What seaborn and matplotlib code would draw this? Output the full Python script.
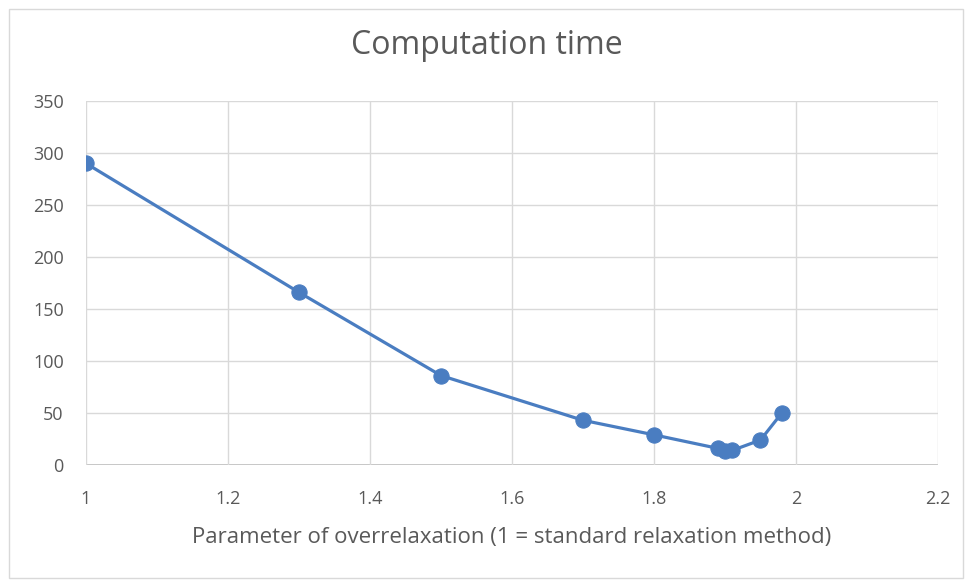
import matplotlib
matplotlib.use("Agg")
import matplotlib.pyplot as plt
import seaborn as sns
import pandas as pd
from matplotlib.patches import Rectangle

omega = [1.0, 1.3, 1.5, 1.7, 1.8, 1.89, 1.9, 1.91, 1.95, 1.98]
time_s = [290, 166, 86, 43, 29, 16, 13.5, 14, 24, 50]
x_ticks = [1, 1.2, 1.4, 1.6, 1.8, 2, 2.2]
x_tick_labels = ["1", "1.2", "1.4", "1.6", "1.8", "2", "2.2"]
y_ticks = [0, 50, 100, 150, 200, 250, 300, 350]

df = pd.DataFrame({"omega": omega, "time": time_s})

sns.set_theme(style="white")
plt.rcParams["font.family"] = ["Open Sans", "DejaVu Sans"]

fig = plt.figure(figsize=(9.74, 5.88), dpi=100)
ax = fig.add_axes([86/974, 1-465/588, (938-86)/974, (465-101)/588])

grid_c = "#D9D9D9"
text_c = "#595959"
line_c = "#4A7DC1"

sns.lineplot(data=df, x="omega", y="time", ax=ax, color=line_c, linewidth=2.3,
             marker="o", markersize=11, markeredgecolor=line_c, sort=False)

ax.set_xlim(1, 2.2)
ax.set_ylim(0, 350)
ax.set_xticks(x_ticks)
ax.set_xticklabels(x_tick_labels)
ax.set_yticks(y_ticks)
ax.grid(True, color=grid_c, linewidth=1)
ax.set_axisbelow(True)
for s in ax.spines.values():
    s.set_visible(False)
ax.axhline(0, color="#BFBFBF", linewidth=1.3, zorder=0)
ax.tick_params(axis="both", length=0, labelsize=13, colors=text_c)
ax.tick_params(axis="y", pad=16)
ax.tick_params(axis="x", pad=18)
ax.set_xlabel("Parameter of overrelaxation (1 = standard relaxation method)",
              fontsize=16, color=text_c, labelpad=14)
ax.set_ylabel("")
fig.text(0.5, 1-45/588, "Computation time", ha="center", va="center",
         fontsize=23, color=text_c)

fig.patches.append(Rectangle((9/974, 1-578/588), 954/974, 569/588,
                             transform=fig.transFigure, fill=False,
                             edgecolor="#D9D9D9", linewidth=1))

fig.savefig("out.png", dpi=100)
